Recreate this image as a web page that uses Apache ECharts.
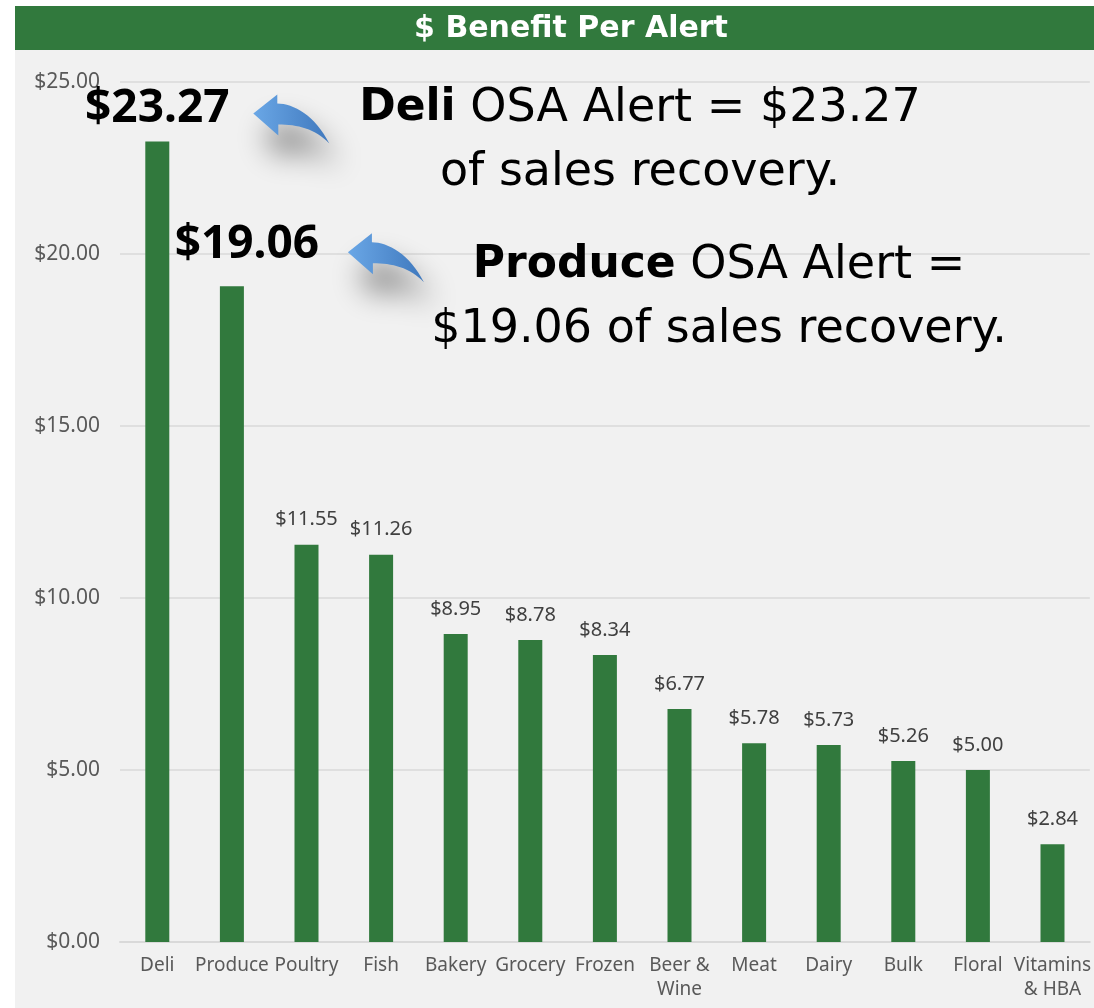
<!DOCTYPE html>
<html lang="en">
<head>
    <meta charset="UTF-8">
    <title>$ Benefit Per Alert</title>
    <script src="https://cdn.jsdelivr.net/npm/echarts@6/dist/echarts.min.js"></script>
    <style>
        html, body { margin: 0; padding: 0; background: #fff; }
    </style>
</head>
<body>
<div id="main" style="width: 1094px; height: 1008px;"></div>
<script type="text/javascript">
    // data
    var categories = ['Deli', 'Produce', 'Poultry', 'Fish', 'Bakery', 'Grocery', 'Frozen',
        'Beer &\nWine', 'Meat', 'Dairy', 'Bulk', 'Floral', 'Vitamins\n& HBA'];
    var benefit = [23.27, 19.06, 11.55, 11.26, 8.95, 8.78, 8.34, 6.77, 5.78, 5.73, 5.26, 5.00, 2.84];
    var yTicks = [0, 5, 10, 15, 20, 25];
    // the two bars that get the big callouts
    var bigOnes = [0, 1];

    var FONT = '"Noto Sans", sans-serif';
    var NOTE_FONT = '"DejaVu Sans", sans-serif';

    // curved callout arrow, tip at 0,0
    var arrowPath = 'M0,0 L24,-19 L24,-10 C40,-10 62,2 76,30 C62,15 44,11 25,11 L25,22 Z';
    echarts.graphic.registerShape('calloutArrow', echarts.graphic.extendPath(arrowPath, {}));

    var chart = echarts.init(document.getElementById('main'));

    var barData = benefit.map(function (v, i) {
        var item = { value: v };
        if (i === 0) {
            item.label = { fontSize: 46, fontWeight: 'bold', color: '#000', distance: 10 };
        } else if (i === 1) {
            item.label = { fontSize: 46, fontWeight: 'bold', color: '#000', distance: 18, offset: [15, 0] };
        }
        return item;
    });

    var baseGraphic = [
        { type: 'rect', z: -10, silent: true, shape: { x: 15, y: 50, width: 1100, height: 1000 }, style: { fill: '#f1f1f1' } },
        { type: 'rect', z: -10, silent: true, shape: { x: 15, y: 6, width: 1100, height: 44 }, style: { fill: '#31793d' } },
        { type: 'text', x: 571, y: 29, silent: true,
          style: { text: '$ Benefit Per Alert', fill: '#fff', font: 'bold 30px ' + NOTE_FONT, align: 'center', verticalAlign: 'middle' } }
    ];

    chart.setOption({
        animation: false,
        backgroundColor: '#ffffff',
        graphic: baseGraphic,
        grid: { left: 120, right: 0, top: 82, bottom: 66 },
        xAxis: {
            type: 'category',
            data: categories,
            axisLine: { lineStyle: { color: '#d9d9d9', width: 2 } },
            axisTick: { show: false },
            axisLabel: { color: '#595959', fontSize: 19, fontFamily: FONT, margin: 12, lineHeight: 24, interval: 0 }
        },
        yAxis: {
            type: 'value',
            min: 0,
            max: yTicks[yTicks.length - 1],
            interval: yTicks[1] - yTicks[0],
            axisLine: { show: false },
            axisTick: { show: false },
            splitLine: { lineStyle: { color: '#d9d9d9', width: 1.5 } },
            axisLabel: {
                color: '#595959', fontSize: 21, fontFamily: FONT, margin: 20,
                formatter: function (v) { return '$' + v.toFixed(2); }
            }
        },
        series: [{
            type: 'bar',
            data: barData,
            barWidth: 24,
            itemStyle: { color: '#31793d' },
            label: {
                show: true,
                position: 'top',
                distance: 15,
                color: '#404040',
                fontSize: 20,
                fontFamily: FONT,
                formatter: function (p) { return '$' + p.value.toFixed(2); }
            }
        }]
    });

    // callout arrows and texts, anchored on the bar tops
    var tips = [[96, -28], [116, -34]];
    var extra = [];
    bigOnes.forEach(function (idx, k) {
        var p = chart.convertToPixel({ seriesIndex: 0 }, [idx, benefit[idx]]);
        extra.push({
            type: 'calloutArrow', silent: true, z: 50, x: p[0] + tips[k][0], y: p[1] + tips[k][1],
            style: {
                fill: {
                    type: 'linear', x: 0, y: 0, x2: 1, y2: 0,
                    colorStops: [{ offset: 0, color: '#6aa7e6' }, { offset: 1, color: '#3f78bd' }]
                },
                shadowBlur: 30, shadowColor: 'rgba(0,0,0,0.5)', shadowOffsetX: 10, shadowOffsetY: 24
            }
        });
    });
    var noteRich = { b: { fontWeight: 'bold', fontSize: 44, fontFamily: NOTE_FONT, lineHeight: 64 } };
    extra.push({
        type: 'text', silent: true, z: 100, x: 640, y: 77,
        style: {
            text: '{b|Deli} OSA Alert = $23.27\nof sales recovery.',
            font: '46px ' + NOTE_FONT, fill: '#000', align: 'center', lineHeight: 64,
            rich: noteRich
        }
    });
    extra.push({
        type: 'text', silent: true, z: 100, x: 719, y: 234,
        style: {
            text: '{b|Produce} OSA Alert =\n$19.06 of sales recovery.',
            font: '46px ' + NOTE_FONT, fill: '#000', align: 'center', lineHeight: 64,
            rich: noteRich
        }
    });
    chart.setOption({ graphic: baseGraphic.concat(extra) });
</script>
</body>
</html>
